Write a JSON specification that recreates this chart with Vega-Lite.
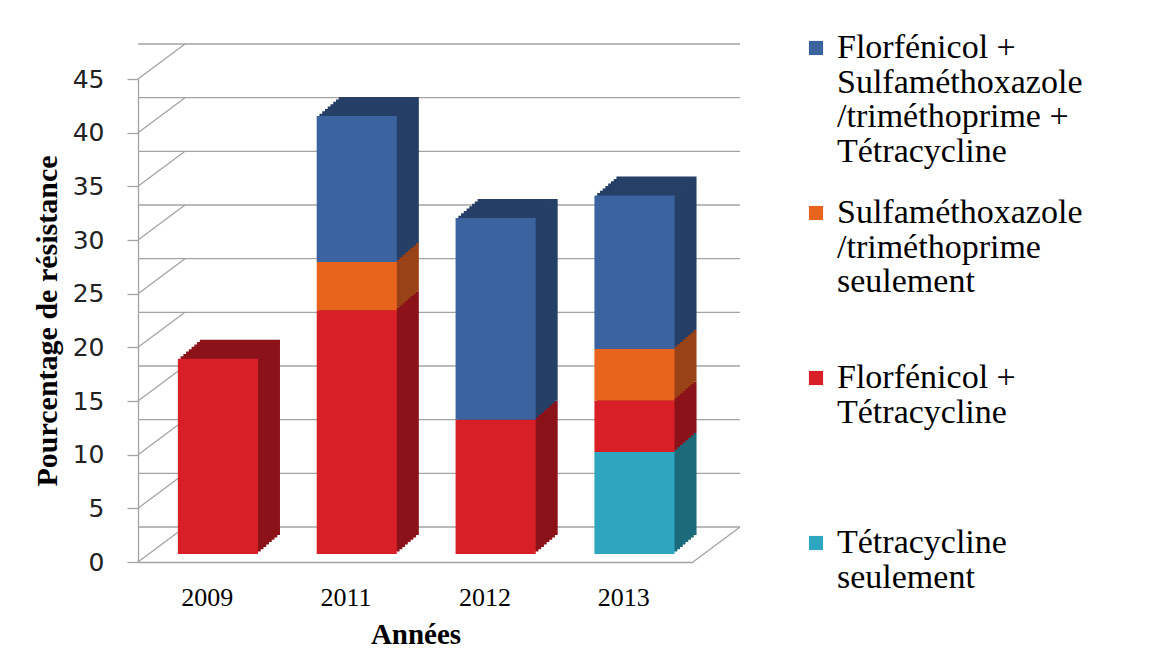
{
  "$schema": "https://vega.github.io/schema/vega-lite/v6.json",
  "width": 555,
  "height": 483,
  "autosize": {"type": "none"},
  "padding": {"left": 138, "top": 79, "right": 464, "bottom": 110},
  "background": "white",
  "config": {"view": {"stroke": null}, "font": "Liberation Serif", "style": {"guide-label": {"lineHeight": 34.5}}},
  "datasets": {
    "barres": [
      {"annee": "2009", "serie": "Florfénicol + Tétracycline", "valeur": 18.2, "ordre": 2},
      {"annee": "2011", "serie": "Florfénicol + Tétracycline", "valeur": 22.7, "ordre": 2},
      {"annee": "2011", "serie": "Sulfaméthoxazole/triméthoprime seulement", "valeur": 4.5, "ordre": 3},
      {"annee": "2011", "serie": "Florfénicol + Sulfaméthoxazole/triméthoprime + Tétracycline", "valeur": 13.6, "ordre": 4},
      {"annee": "2012", "serie": "Florfénicol + Tétracycline", "valeur": 12.5, "ordre": 2},
      {"annee": "2012", "serie": "Florfénicol + Sulfaméthoxazole/triméthoprime + Tétracycline", "valeur": 18.8, "ordre": 4},
      {"annee": "2013", "serie": "Tétracycline seulement", "valeur": 9.5, "ordre": 1},
      {"annee": "2013", "serie": "Florfénicol + Tétracycline", "valeur": 4.8, "ordre": 2},
      {"annee": "2013", "serie": "Sulfaméthoxazole/triméthoprime seulement", "valeur": 4.8, "ordre": 3},
      {"annee": "2013", "serie": "Florfénicol + Sulfaméthoxazole/triméthoprime + Tétracycline", "valeur": 14.3, "ordre": 4}
    ],
    "grille": [{"v": 0}, {"v": 5}, {"v": 10}, {"v": 15}, {"v": 20}, {"v": 25}, {"v": 30}, {"v": 35}, {"v": 40}, {"v": 45}],
    "sol": [{"v": 0}]
  },
  "layer": [
    {
      "data": {"name": "barres"},
      "mark": {"type": "bar", "opacity": 0},
      "encoding": {
        "x": {
          "field": "annee", "type": "nominal",
          "scale": {"paddingInner": 0.423, "paddingOuter": 0.21},
          "axis": {
            "title": "Années", "titleFont": "Liberation Serif", "titleFontSize": 29, "titleFontWeight": "bold", "titleColor": "#000000", "titlePadding": 10,
            "labelFont": "Liberation Serif", "labelFontSize": 26, "labelColor": "#000000", "labelAngle": 0, "labelPadding": 22,
            "ticks": false, "domainColor": "#a3a3a3", "domainWidth": 1.3
          }
        },
        "y": {
          "field": "valeur", "type": "quantitative", "stack": "zero",
          "scale": {"domain": [0, 45], "nice": false},
          "axis": {
            "title": "Pourcentage de résistance", "titleFont": "Liberation Serif", "titleFontSize": 30, "titleFontWeight": "bold", "titleColor": "#000000", "titlePadding": 10,
            "values": [0, 5, 10, 15, 20, 25, 30, 35, 40, 45],
            "labelFont": "DejaVu Sans", "labelFontSize": 25, "labelColor": "#222222", "labelPadding": 23,
            "tickSize": 11, "tickColor": "#a3a3a3", "tickWidth": 1.3, "domainColor": "#a3a3a3", "domainWidth": 1.3, "grid": false
          }
        }
      }
    },
    {
      "data": {"name": "grille"},
      "mark": {"type": "rule", "color": "#a3a3a3", "strokeWidth": 1.3, "xOffset": 47, "yOffset": -35},
      "encoding": {"y": {"field": "v", "type": "quantitative"}}
    },
    {
      "data": {"name": "grille"},
      "mark": {"type": "rule", "color": "#a3a3a3", "strokeWidth": 1.3, "y2Offset": -35},
      "encoding": {"x": {"value": 0}, "x2": {"value": 47}, "y": {"field": "v", "type": "quantitative"}, "y2": {"field": "v"}}
    },
    {
      "data": {"name": "sol"},
      "mark": {"type": "rule", "color": "#a3a3a3", "strokeWidth": 1.3, "y2Offset": -35},
      "encoding": {"x": {"value": 555}, "x2": {"value": 602}, "y": {"field": "v", "type": "quantitative"}, "y2": {"field": "v"}}
    },
    {
      "data": {"name": "barres"},
      "mark": {"type": "bar", "xOffset": 32.7, "yOffset": -27},
      "encoding": {
        "x": {"field": "annee", "type": "nominal"},
        "y": {"field": "valeur", "type": "quantitative", "stack": "zero"},
        "order": {"field": "ordre", "type": "quantitative", "sort": "ascending"},
        "color": {"field": "serie", "type": "nominal", "legend": null, "scale": {"domain": ["Florfénicol + Sulfaméthoxazole/triméthoprime + Tétracycline", "Sulfaméthoxazole/triméthoprime seulement", "Florfénicol + Tétracycline", "Tétracycline seulement"], "range": ["#253f66", "#9a4217", "#8c121a", "#1c6b7b"]}}
      }
    },
    {
      "data": {"name": "barres"},
      "mark": {"type": "bar", "xOffset": 29.95, "yOffset": -24.6},
      "encoding": {
        "x": {"field": "annee", "type": "nominal"},
        "y": {"field": "valeur", "type": "quantitative", "stack": "zero"},
        "order": {"field": "ordre", "type": "quantitative", "sort": "ascending"},
        "color": {"field": "serie", "type": "nominal", "legend": null, "scale": {"domain": ["Florfénicol + Sulfaméthoxazole/triméthoprime + Tétracycline", "Sulfaméthoxazole/triméthoprime seulement", "Florfénicol + Tétracycline", "Tétracycline seulement"], "range": ["#253f66", "#9a4217", "#8c121a", "#1c6b7b"]}}
      }
    },
    {
      "data": {"name": "barres"},
      "mark": {"type": "bar", "xOffset": 27.2, "yOffset": -22.25},
      "encoding": {
        "x": {"field": "annee", "type": "nominal"},
        "y": {"field": "valeur", "type": "quantitative", "stack": "zero"},
        "order": {"field": "ordre", "type": "quantitative", "sort": "ascending"},
        "color": {"field": "serie", "type": "nominal", "legend": null, "scale": {"domain": ["Florfénicol + Sulfaméthoxazole/triméthoprime + Tétracycline", "Sulfaméthoxazole/triméthoprime seulement", "Florfénicol + Tétracycline", "Tétracycline seulement"], "range": ["#253f66", "#9a4217", "#8c121a", "#1c6b7b"]}}
      }
    },
    {
      "data": {"name": "barres"},
      "mark": {"type": "bar", "xOffset": 24.45, "yOffset": -19.9},
      "encoding": {
        "x": {"field": "annee", "type": "nominal"},
        "y": {"field": "valeur", "type": "quantitative", "stack": "zero"},
        "order": {"field": "ordre", "type": "quantitative", "sort": "ascending"},
        "color": {"field": "serie", "type": "nominal", "legend": null, "scale": {"domain": ["Florfénicol + Sulfaméthoxazole/triméthoprime + Tétracycline", "Sulfaméthoxazole/triméthoprime seulement", "Florfénicol + Tétracycline", "Tétracycline seulement"], "range": ["#253f66", "#9a4217", "#8c121a", "#1c6b7b"]}}
      }
    },
    {
      "data": {"name": "barres"},
      "mark": {"type": "bar", "xOffset": 21.7, "yOffset": -17.5},
      "encoding": {
        "x": {"field": "annee", "type": "nominal"},
        "y": {"field": "valeur", "type": "quantitative", "stack": "zero"},
        "order": {"field": "ordre", "type": "quantitative", "sort": "ascending"},
        "color": {"field": "serie", "type": "nominal", "legend": null, "scale": {"domain": ["Florfénicol + Sulfaméthoxazole/triméthoprime + Tétracycline", "Sulfaméthoxazole/triméthoprime seulement", "Florfénicol + Tétracycline", "Tétracycline seulement"], "range": ["#253f66", "#9a4217", "#8c121a", "#1c6b7b"]}}
      }
    },
    {
      "data": {"name": "barres"},
      "mark": {"type": "bar", "xOffset": 18.95, "yOffset": -15.1},
      "encoding": {
        "x": {"field": "annee", "type": "nominal"},
        "y": {"field": "valeur", "type": "quantitative", "stack": "zero"},
        "order": {"field": "ordre", "type": "quantitative", "sort": "ascending"},
        "color": {"field": "serie", "type": "nominal", "legend": null, "scale": {"domain": ["Florfénicol + Sulfaméthoxazole/triméthoprime + Tétracycline", "Sulfaméthoxazole/triméthoprime seulement", "Florfénicol + Tétracycline", "Tétracycline seulement"], "range": ["#253f66", "#9a4217", "#8c121a", "#1c6b7b"]}}
      }
    },
    {
      "data": {"name": "barres"},
      "mark": {"type": "bar", "xOffset": 16.2, "yOffset": -12.75},
      "encoding": {
        "x": {"field": "annee", "type": "nominal"},
        "y": {"field": "valeur", "type": "quantitative", "stack": "zero"},
        "order": {"field": "ordre", "type": "quantitative", "sort": "ascending"},
        "color": {"field": "serie", "type": "nominal", "legend": null, "scale": {"domain": ["Florfénicol + Sulfaméthoxazole/triméthoprime + Tétracycline", "Sulfaméthoxazole/triméthoprime seulement", "Florfénicol + Tétracycline", "Tétracycline seulement"], "range": ["#253f66", "#9a4217", "#8c121a", "#1c6b7b"]}}
      }
    },
    {
      "data": {"name": "barres"},
      "mark": {"type": "bar", "xOffset": 13.45, "yOffset": -10.4},
      "encoding": {
        "x": {"field": "annee", "type": "nominal"},
        "y": {"field": "valeur", "type": "quantitative", "stack": "zero"},
        "order": {"field": "ordre", "type": "quantitative", "sort": "ascending"},
        "color": {"field": "serie", "type": "nominal", "legend": null, "scale": {"domain": ["Florfénicol + Sulfaméthoxazole/triméthoprime + Tétracycline", "Sulfaméthoxazole/triméthoprime seulement", "Florfénicol + Tétracycline", "Tétracycline seulement"], "range": ["#253f66", "#9a4217", "#8c121a", "#1c6b7b"]}}
      }
    },
    {
      "data": {"name": "barres"},
      "mark": {"type": "bar", "xOffset": 10.7, "yOffset": -8},
      "encoding": {
        "x": {"field": "annee", "type": "nominal"},
        "y": {"field": "valeur", "type": "quantitative", "stack": "zero"},
        "order": {"field": "ordre", "type": "quantitative", "sort": "ascending"},
        "color": {
          "field": "serie", "type": "nominal",
          "scale": {
            "domain": ["Florfénicol + Sulfaméthoxazole/triméthoprime + Tétracycline", "Sulfaméthoxazole/triméthoprime seulement", "Florfénicol + Tétracycline", "Tétracycline seulement"],
            "range": ["#3a63a0", "#e8641c", "#d81f28", "#2ea6c0"]
          },
          "legend": {
            "title": null, "orient": "none", "legendX": 661, "legendY": -48,
            "symbolType": "square", "symbolSize": 200, "symbolStrokeWidth": 0,
            "labelFont": "Liberation Serif", "labelFontSize": 34, "labelColor": "#000000",
            "labelLimit": 400, "labelOffset": 4, "rowPadding": 27,
            "labelExpr": "datum.label == 'Florfénicol + Sulfaméthoxazole/triméthoprime + Tétracycline' ? ['Florfénicol +', 'Sulfaméthoxazole', '/triméthoprime +', 'Tétracycline'] : datum.label == 'Sulfaméthoxazole/triméthoprime seulement' ? ['Sulfaméthoxazole', '/triméthoprime', 'seulement', ' '] : datum.label == 'Florfénicol + Tétracycline' ? ['Florfénicol +', 'Tétracycline', ' ', ' '] : ['Tétracycline', 'seulement', ' ', ' ']"
          }
        }
      }
    }
  ],
  "resolve": {"scale": {"color": "independent"}}
}
